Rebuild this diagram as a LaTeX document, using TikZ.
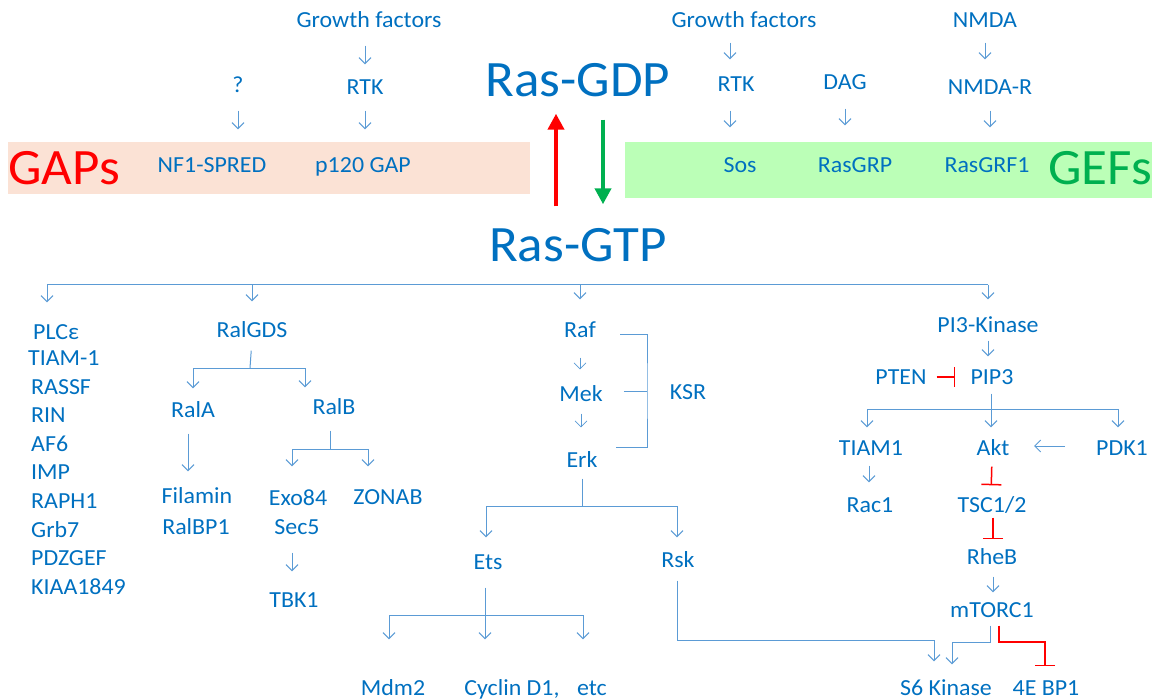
\documentclass[tikz,border=0pt]{standalone}
\usepackage{fontspec}
\setmainfont{Carlito}[FakeStretch=1.04]
\usepackage{tikz}
\usepackage{xcolor}
\usetikzlibrary{arrows.meta, positioning}
\definecolor{rasblue}{RGB}{0,112,192}
\definecolor{linkblue}{RGB}{91,155,213}
\definecolor{gapfill}{RGB}{251,226,213}
\definecolor{geffill}{RGB}{187,255,183}
\definecolor{gefgreen}{RGB}{0,176,80}

\begin{document}
\begin{tikzpicture}[x=1pt, y=-1pt,
  lbl/.style={text=rasblue, font=\fontsize{23}{27}\selectfont, text height=15pt, text depth=0pt, inner sep=2pt},
  big/.style={lbl, font=\fontsize{51}{55}\selectfont, text height=33pt},
  link/.style={draw=linkblue, line width=1pt},
  act/.style={link, -{Straight Barb[length=6pt, width=12pt]}},
  inh/.style={draw=red, line width=1.5pt, -{Bar[width=20pt]}},
  flip/.style={line width=4pt, -{Triangle[length=16pt, width=16pt]}}]

            \useasboundingbox (0,0) rectangle (1156,700);
            \fill[gapfill] (8,142) rectangle (530,194);
            \fill[geffill] (625,142) rectangle (1152,198);

            \node[big, text=red] (gaps) at (64,168) {GAPs};
            \node[big, text=gefgreen] (gefs) at (1100,168) {GEFs};
            \node[big] (gdp) at (578,80) {Ras-GDP};
            \node[big] (gtp) at (578,245) {Ras-GTP};

            \node[lbl] (gfL) at (369,20) {Growth factors};
            \node[lbl] (qm) at (238,85) {?};
            \node[lbl] (rtkL) at (365,87) {RTK};
            \node[lbl] (nf1) at (212,165) {NF1-SPRED};
            \node[lbl] (p120) at (363,165) {p120 GAP};

            \node[lbl] (gfR) at (744,20) {Growth factors};
            \node[lbl] (rtkR) at (736,84) {RTK};
            \node[lbl] (dag) at (845,82) {DAG};
            \node[lbl] (nmda) at (985,20) {NMDA};
            \node[lbl] (nmdar) at (990,87) {NMDA-R};
            \node[lbl] (sos) at (740,165) {Sos};
            \node[lbl] (rasgrp) at (855,165) {RasGRP};
            \node[lbl] (rasgrf) at (987,165) {RasGRF1};

            \draw[act, shorten <=16pt, shorten >=13pt] (gfL.south -| rtkL) -- (rtkL.north);
            \draw[act, shorten <=14pt, shorten >=26pt] (rtkL.south) -- (rtkL |- p120.north);
            \draw[act, shorten <=16pt, shorten >=26pt] (qm.south) -- (qm |- nf1.north);
            \draw[act, shorten <=13pt, shorten >=15pt] ([xshift=-6pt]rtkR |- gfR.south) -- ([xshift=-6pt]rtkR.north);
            \draw[act, shorten <=17pt, shorten >=28pt] ([xshift=-6pt]rtkR.south) -- ([xshift=-6pt]rtkR |- sos.north);
            \draw[act, shorten <=17pt, shorten >=30pt] (dag.south) -- (dag |- rasgrp.north);
            \draw[act, shorten <=13pt, shorten >=18pt] (nmda.south) -- (nmda |- nmdar.north);
            \draw[act, shorten <=14pt, shorten >=28pt] (nmdar.south) -- (nmdar |- rasgrf.north);

            \draw[flip, red, shorten <=20pt, shorten >=15pt] ([xshift=-22pt]gtp.north) -- ([xshift=-22pt]gdp.south);
            \draw[flip, gefgreen, shorten <=21pt, shorten >=22pt] ([xshift=25pt]gdp.south) -- ([xshift=25pt]gtp.north);

            % effectors of Ras-GTP
            \coordinate (busL) at (47,285);
            \coordinate (busR) at (988,285);
            \node[lbl, anchor=west] (plc) at (31,332) {PLCε};
            \node[lbl, anchor=west] (tiam) at (26,358) {TIAM-1};
            \node[lbl, anchor=west] (rassf) at (29,387) {RASSF};
            \node[lbl, anchor=west] (rin) at (29,415) {RIN};
            \node[lbl, anchor=west] (af6) at (29,444) {AF6};
            \node[lbl, anchor=west] (imp) at (29,472) {IMP};
            \node[lbl, anchor=west] (raph) at (29,501) {RAPH1};
            \node[lbl, anchor=west] (grb) at (29,530) {Grb7};
            \node[lbl, anchor=west] (pdz) at (29,558) {PDZGEF};
            \node[lbl, anchor=west] (kiaa) at (29,587) {KIAA1849};

            \node[lbl] (ralgds) at (252,330) {RalGDS};
            \node[lbl] (rala) at (193,410) {RalA};
            \node[lbl] (ralb) at (334,407) {RalB};
            \node[lbl] (filamin) at (197,496) {Filamin};
            \node[lbl] (ralbp) at (196,527) {RalBP1};
            \node[lbl] (exo) at (298,498) {Exo84};
            \node[lbl] (sec) at (297,527) {Sec5};
            \node[lbl] (zonab) at (388,497) {ZONAB};
            \node[lbl] (tbk) at (294,600) {TBK1};
            \coordinate (ralbus) at (250,368);
            \coordinate (ralbbus) at (330,449);

            \node[lbl] (raf) at (580,330) {Raf};
            \node[lbl] (mek) at (581,394) {Mek};
            \node[lbl] (erk) at (582,460) {Erk};
            \node[lbl] (ksr) at (688,392) {KSR};
            \coordinate (ksrtop) at (620,335);
            \coordinate (ksrbar) at (647,391);
            \coordinate (ksrlow) at (616,447);
            \node[lbl] (ets) at (488,562) {Ets};
            \node[lbl] (rsk) at (678,560) {Rsk};
            \node[lbl] (mdm) at (393,688) {Mdm2};
            \node[lbl] (cyclin) at (512,688) {Cyclin D1,};
            \node[lbl] (etc) at (592,688) {etc};
            \coordinate (erkbus) at (582,506);
            \coordinate (etsbus) at (485,615);
            \coordinate (s6bus) at (934,640);

            \node[lbl] (pi3k) at (988,325) {PI3-Kinase};
            \node[lbl] (pip) at (992,377) {PIP3};
            \node[lbl] (pten) at (901,377) {PTEN};
            \node[lbl] (tiamone) at (871,448) {TIAM1};
            \node[lbl] (akt) at (993,448) {Akt};
            \node[lbl] (pdk) at (1122,448) {PDK1};
            \node[lbl] (rac) at (870,505) {Rac1};
            \node[lbl] (tsc) at (992,505) {TSC1/2};
            \node[lbl] (rheb) at (992,557) {RheB};
            \node[lbl] (mtorc) at (992,610) {mTORC1};
            \node[lbl] (s6k) at (946,688) {S6 Kinase};
            \node[lbl] (ebp) at (1046,688) {4E BP1};
            \coordinate (pipbus) at (991,409);
            \coordinate (mtL) at (952,642);
            \coordinate (mtR) at (1045,642);

            \draw[link] (busL) -- (busR);
            \draw[act, shorten >=20pt] (busL) -- (busL |- plc.north);
            \draw[act, shorten >=19pt] (ralgds |- busL) -- (ralgds.north);
            \draw[act, shorten >=21pt] (raf |- busL) -- (raf.north);
            \draw[act, shorten >=16pt] (busR) -- (pi3k.north);

            \draw[link, shorten <=11pt] (ralgds.south) -- (ralbus);
            \draw[act, shorten >=12pt] (ralbus) -| (rala.north);
            \draw[act, shorten >=10pt] (ralbus) -| ([xshift=-29pt]ralb.north);
            \draw[act, shorten <=14pt, shorten >=15pt] ([xshift=-5pt]rala.south) -- ([xshift=-9pt]filamin.north);
            \draw[link, shorten <=14pt] ([xshift=-4pt]ralb.south) -- (ralbbus);
            \draw[act, shorten >=22pt] (ralbbus) -| ([xshift=-6pt]exo.north);
            \draw[act, shorten >=21pt] (ralbbus) -| ([xshift=-20pt]zonab.north);
            \draw[act, shorten <=16pt, shorten >=19pt] ([xshift=-5pt]sec.south) -- ([xshift=-2pt]tbk.north);

            \draw[act, line width=.6pt, shorten <=18pt, shorten >=15pt] (raf.south) -- (raf |- mek.north);
            \draw[act, line width=.6pt, shorten <=10pt, shorten >=23pt] (mek.south) -- (mek |- erk.north);
            \draw[link] (ksrtop) -| (ksrbar) |- (ksrlow);
            \draw[link] (ksrbar -| mek.east) ++(19,0) -- (ksrbar);

            \draw[link, shorten <=9pt] (erk.south) -- (erkbus);
            \draw[act, shorten >=15pt] (erkbus) -| ([xshift=-2pt]ets.north);
            \draw[act, shorten >=13pt] (erkbus) -| ([xshift=-1pt]rsk.north);
            \draw[act, shorten <=16pt, shorten >=39pt] ([xshift=-3pt]ets.south) -- (etsbus |- cyclin.north);
            \draw[act, shorten >=39pt] (etsbus) -| ([xshift=-4pt]mdm.north);
            \draw[act, shorten >=39pt] (etsbus) -| ([xshift=-9pt]etc.north);
            \draw[act, shorten <=11pt, shorten >=17pt] ([xshift=-1pt]rsk.south) |- (s6bus) -- ([xshift=-12pt]s6k.north);

            \draw[act, shorten <=6pt, shorten >=11pt] (pi3k.south) -- (pi3k |- pip.north);
            \draw[inh, shorten <=8pt, shorten >=13pt] (pten.east) -- (pip.west);
            \draw[link, shorten <=7pt] ([xshift=-1pt]pip.south) -- (pipbus);
            \draw[act, shorten >=11pt] (pipbus) -| ([xshift=-4pt]tiamone.north);
            \draw[act, shorten >=11pt] (pipbus) -- (pipbus |- akt.north);
            \draw[act, shorten >=11pt] (pipbus) -| ([xshift=-4pt]pdk.north);
            \draw[act, shorten <=57pt, shorten >=41pt] ([yshift=2pt]pdk.center) -- ([yshift=2pt]akt.center);
            \draw[act, shorten <=8pt, shorten >=13pt] ([xshift=-2pt]tiamone.south) -- ([xshift=-1pt]rac.north);
            \draw[inh, shorten <=9pt, shorten >=10pt] ([xshift=-1pt]akt.south) -- ([xshift=-1pt]tsc.north);
            \draw[inh, shorten <=3pt, shorten >=8pt] ([xshift=1pt]tsc.south) -- ([xshift=1pt]rheb.north);
            \draw[act, shorten <=10pt, shorten >=8pt] ([xshift=1pt]rheb.south) -- ([xshift=1pt]mtorc.north);
            \draw[act, shorten <=6pt, shorten >=14pt] ([xshift=-2pt]mtorc.south) |- (mtL) -- ([xshift=6pt]s6k.north);
            \draw[inh, shorten <=6pt, shorten >=12pt] ([xshift=7pt]mtorc.south) |- (mtR) -- (mtR |- ebp.north);

        \end{tikzpicture}
\end{document}
